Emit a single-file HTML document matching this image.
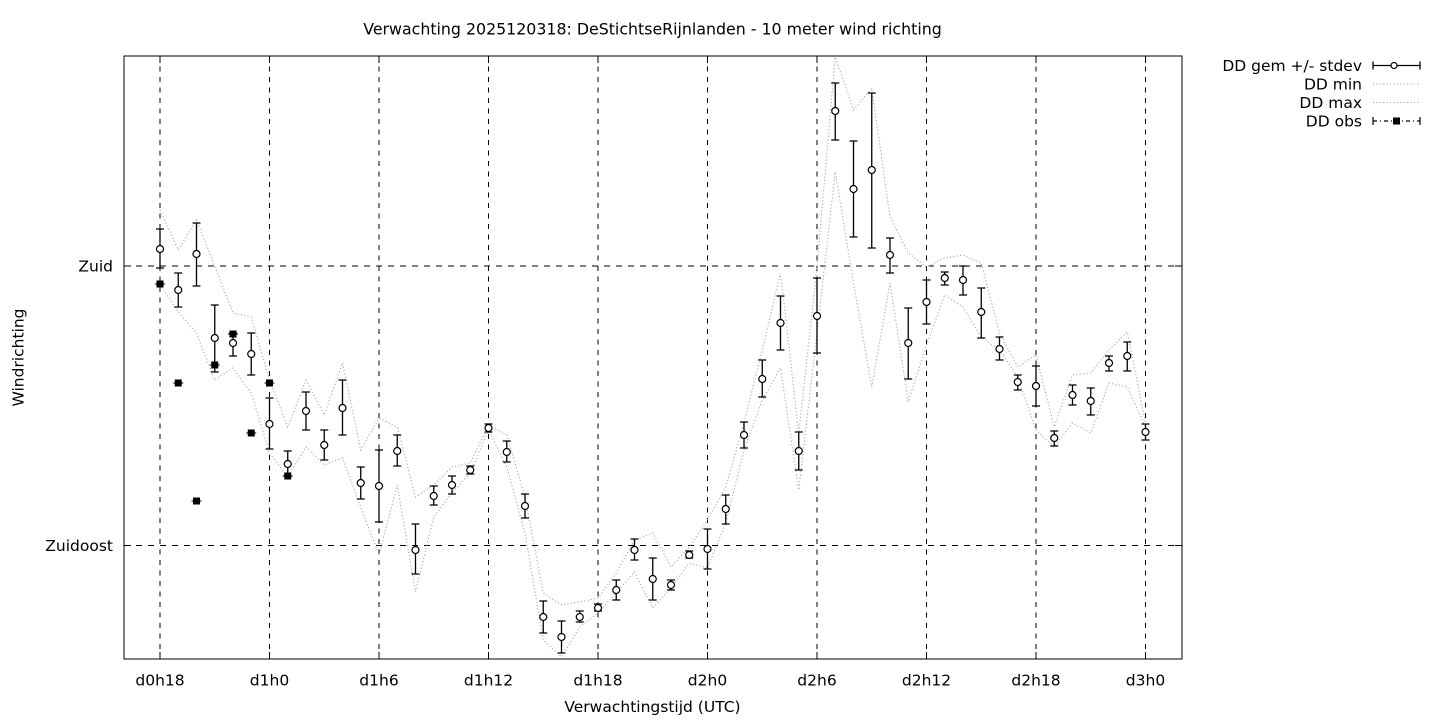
<!DOCTYPE html>
<html><head><meta charset="utf-8"><style>
html,body{margin:0;padding:0;background:#fff;}
svg{display:block;}
text{font-family:"DejaVu Sans","Liberation Sans",sans-serif;font-size:15.5px;fill:#000;}
.eb{stroke:#000;stroke-width:1.3;fill:none;}
.pt{fill:#fff;stroke:#000;stroke-width:1.2;}
.grid{stroke:#000;stroke-width:1;fill:none;shape-rendering:crispEdges;}
.dot{stroke:#a8a8a8;stroke-width:1.1;fill:none;stroke-dasharray:1.2,2.2;}
</style></head><body>
<svg width="1440" height="720" viewBox="0 0 1440 720" xmlns="http://www.w3.org/2000/svg">
<rect width="1440" height="720" fill="#fff"/>
<g class="grid" stroke-dasharray="5,5.5">
<path d="M160 56V659M269.5 56V659M379 56V659M488.5 56V659M598 56V659M707.5 56V659M817 56V659M926.5 56V659M1036 56V659M1145.5 56V659"/>
</g>
<g class="grid" stroke-dasharray="6,6">
<path d="M124 266H1182M124 545.5H1182"/>
</g>
<path stroke="#000" stroke-width="1" shape-rendering="crispEdges" d="M160 659v-7M269.5 659v-7M379 659v-7M488.5 659v-7M598 659v-7M707.5 659v-7M817 659v-7M926.5 659v-7M1036 659v-7M1145.5 659v-7M160 56v7M269.5 56v7M379 56v7M488.5 56v7M598 56v7M707.5 56v7M817 56v7M926.5 56v7M1036 56v7M1145.5 56v7M124 266h7M124 545.5h7M1182 266h-7M1182 545.5h-7"/>
<polyline class="dot" points="160,210 178.25,250 196.5,220 214.75,266 233,313 251.25,317 269.5,380 287.75,427 306,380 324.25,415 342.5,363 360.75,450 379,418 397.25,427 415.5,497 433.75,485 452,467 470.25,463 488.5,425 506.75,435 525,497 543.25,593 561.5,605 579.75,602 598,598 616.25,573 634.5,540 652.75,533 671,567 689.25,547 707.5,520 725.75,487 744,423 762.25,350 780.5,273 798.75,433 817,267 835.25,57 853.5,110 871.75,88 890,217 908.25,253 926.5,267 944.75,258 963,255 981.25,263 999.5,333 1017.75,367 1036,355 1054.25,427 1072.5,375 1090.75,373 1109,350 1127.25,332 1145.5,423"/>
<polyline class="dot" points="160,284 178.25,312 196.5,333 214.75,380 233,368 251.25,393 269.5,453 287.75,477 306,447 324.25,465 342.5,458 360.75,507 379,555 397.25,485 415.5,592 433.75,517 452,493 470.25,473 488.5,430 506.75,467 525,533 543.25,640 561.5,657 579.75,627 598,613 616.25,593 634.5,572 652.75,608 671,588 689.25,563 707.5,568 725.75,523 744,450 762.25,400 780.5,368 798.75,490 817,333 835.25,172 853.5,283 871.75,387 890,283 908.25,402 926.5,345 944.75,295 963,307 981.25,337 999.5,350 1017.75,377 1036,430 1054.25,447 1072.5,423 1090.75,433 1109,383 1127.25,387 1145.5,427"/>
<path class="eb" d="M160 229V268M156 229h8M156 268h8
M178.25 273V307M174.25 273h8M174.25 307h8
M196.5 223V286M192.5 223h8M192.5 286h8
M214.75 305V372M210.75 305h8M210.75 372h8
M233 333V356M229 333h8M229 356h8
M251.25 333V375M247.25 333h8M247.25 375h8
M269.5 398V449M265.5 398h8M265.5 449h8
M287.75 451V476M283.75 451h8M283.75 476h8
M306 392V430M302 392h8M302 430h8
M324.25 430V460M320.25 430h8M320.25 460h8
M342.5 380V435M338.5 380h8M338.5 435h8
M360.75 467V499M356.75 467h8M356.75 499h8
M379 450V522M375 450h8M375 522h8
M397.25 435V466M393.25 435h8M393.25 466h8
M415.5 524V574M411.5 524h8M411.5 574h8
M433.75 486V505M429.75 486h8M429.75 505h8
M452 476V494M448 476h8M448 494h8
M470.25 466V474M466.25 466h8M466.25 474h8
M488.5 424V432M484.5 424h8M484.5 432h8
M506.75 441V462M502.75 441h8M502.75 462h8
M525 494V518M521 494h8M521 518h8
M543.25 601V633M539.25 601h8M539.25 633h8
M561.5 621V653M557.5 621h8M557.5 653h8
M579.75 611V622M575.75 611h8M575.75 622h8
M598 604V611M594 604h8M594 611h8
M616.25 580V600M612.25 580h8M612.25 600h8
M634.5 539V560M630.5 539h8M630.5 560h8
M652.75 558V600M648.75 558h8M648.75 600h8
M671 580V590M667 580h8M667 590h8
M689.25 551V558M685.25 551h8M685.25 558h8
M707.5 529V569M703.5 529h8M703.5 569h8
M725.75 495V524M721.75 495h8M721.75 524h8
M744 422V448M740 422h8M740 448h8
M762.25 360V397M758.25 360h8M758.25 397h8
M780.5 296V350M776.5 296h8M776.5 350h8
M798.75 432V470M794.75 432h8M794.75 470h8
M817 278V353M813 278h8M813 353h8
M835.25 83V140M831.25 83h8M831.25 140h8
M853.5 141V237M849.5 141h8M849.5 237h8
M871.75 93V248M867.75 93h8M867.75 248h8
M890 238V273M886 238h8M886 273h8
M908.25 308V379M904.25 308h8M904.25 379h8
M926.5 280V324M922.5 280h8M922.5 324h8
M944.75 272V285M940.75 272h8M940.75 285h8
M963 266V295M959 266h8M959 295h8
M981.25 288V338M977.25 288h8M977.25 338h8
M999.5 337V360M995.5 337h8M995.5 360h8
M1017.75 375V390M1013.75 375h8M1013.75 390h8
M1036 366V406M1032 366h8M1032 406h8
M1054.25 431V446M1050.25 431h8M1050.25 446h8
M1072.5 385V405M1068.5 385h8M1068.5 405h8
M1090.75 388V415M1086.75 388h8M1086.75 415h8
M1109 356V371M1105 356h8M1105 371h8
M1127.25 342V371M1123.25 342h8M1123.25 371h8
M1145.5 424V440M1141.5 424h8M1141.5 440h8"/>
<path stroke="#000" stroke-width="1" d="M155 284h10M173.25 383h10M191.5 501h10M209.75 365h10M228 334h10M246.25 433h10M264.5 383h10M282.75 476h10"/>
<g fill="#000">
<rect x="156.5" y="280.5" width="7" height="7"/>
<rect x="174.75" y="379.5" width="7" height="7"/>
<rect x="193" y="497.5" width="7" height="7"/>
<rect x="211.25" y="361.5" width="7" height="7"/>
<rect x="229.5" y="330.5" width="7" height="7"/>
<rect x="247.75" y="429.5" width="7" height="7"/>
<rect x="266" y="379.5" width="7" height="7"/>
<rect x="284.25" y="472.5" width="7" height="7"/>
</g>
<g class="pt">
<circle cx="160" cy="249" r="3.5"/><circle cx="178.25" cy="290" r="3.5"/><circle cx="196.5" cy="254" r="3.5"/><circle cx="214.75" cy="338" r="3.5"/><circle cx="233" cy="343" r="3.5"/><circle cx="251.25" cy="354" r="3.5"/><circle cx="269.5" cy="424" r="3.5"/><circle cx="287.75" cy="464" r="3.5"/><circle cx="306" cy="411" r="3.5"/><circle cx="324.25" cy="445" r="3.5"/><circle cx="342.5" cy="408" r="3.5"/><circle cx="360.75" cy="483" r="3.5"/><circle cx="379" cy="486" r="3.5"/><circle cx="397.25" cy="451" r="3.5"/><circle cx="415.5" cy="550" r="3.5"/><circle cx="433.75" cy="496" r="3.5"/><circle cx="452" cy="485" r="3.5"/><circle cx="470.25" cy="470" r="3.5"/><circle cx="488.5" cy="428" r="3.5"/><circle cx="506.75" cy="452" r="3.5"/><circle cx="525" cy="506" r="3.5"/><circle cx="543.25" cy="617" r="3.5"/><circle cx="561.5" cy="637" r="3.5"/><circle cx="579.75" cy="617" r="3.5"/><circle cx="598" cy="608" r="3.5"/><circle cx="616.25" cy="590" r="3.5"/><circle cx="634.5" cy="550" r="3.5"/><circle cx="652.75" cy="579" r="3.5"/><circle cx="671" cy="585" r="3.5"/><circle cx="689.25" cy="555" r="3.5"/><circle cx="707.5" cy="549" r="3.5"/><circle cx="725.75" cy="509" r="3.5"/><circle cx="744" cy="435" r="3.5"/><circle cx="762.25" cy="379" r="3.5"/><circle cx="780.5" cy="323" r="3.5"/><circle cx="798.75" cy="451" r="3.5"/><circle cx="817" cy="316" r="3.5"/><circle cx="835.25" cy="111" r="3.5"/><circle cx="853.5" cy="189" r="3.5"/><circle cx="871.75" cy="170" r="3.5"/><circle cx="890" cy="255" r="3.5"/><circle cx="908.25" cy="343" r="3.5"/><circle cx="926.5" cy="302" r="3.5"/><circle cx="944.75" cy="278" r="3.5"/><circle cx="963" cy="280" r="3.5"/><circle cx="981.25" cy="312" r="3.5"/><circle cx="999.5" cy="349" r="3.5"/><circle cx="1017.75" cy="382" r="3.5"/><circle cx="1036" cy="386" r="3.5"/><circle cx="1054.25" cy="438" r="3.5"/><circle cx="1072.5" cy="395" r="3.5"/><circle cx="1090.75" cy="401" r="3.5"/><circle cx="1109" cy="363" r="3.5"/><circle cx="1127.25" cy="356" r="3.5"/><circle cx="1145.5" cy="432" r="3.5"/>
</g>
<rect x="124" y="56" width="1058" height="603" fill="none" stroke="#000" stroke-width="1.2" shape-rendering="crispEdges"/>
<text x="652.5" y="34.5" text-anchor="middle" style="font-size:15.8px">Verwachting 2025120318: DeStichtseRijnlanden - 10 meter wind richting</text>
<text x="113" y="271.5" text-anchor="end">Zuid</text>
<text x="113" y="551" text-anchor="end">Zuidoost</text>
<text transform="translate(23.5,357.5) rotate(-90)" text-anchor="middle">Windrichting</text>
<g text-anchor="middle">
<text x="160" y="685.5">d0h18</text>
<text x="269.5" y="685.5">d1h0</text>
<text x="379" y="685.5">d1h6</text>
<text x="488.5" y="685.5">d1h12</text>
<text x="598" y="685.5">d1h18</text>
<text x="707.5" y="685.5">d2h0</text>
<text x="817" y="685.5">d2h6</text>
<text x="926.5" y="685.5">d2h12</text>
<text x="1036" y="685.5">d2h18</text>
<text x="1145.5" y="685.5">d3h0</text>
</g>
<text x="652.5" y="712" text-anchor="middle">Verwachtingstijd (UTC)</text>
<g text-anchor="end">
<text x="1362" y="71">DD gem +/- stdev</text>
<text x="1362" y="89.5">DD min</text>
<text x="1362" y="108">DD max</text>
<text x="1362" y="126.5">DD obs</text>
</g>
<path class="eb" d="M1373 65.5H1420M1373 61.5v8M1420 61.5v8"/>
<circle class="pt" cx="1394" cy="65.5" r="3"/>
<path class="dot" d="M1373 84H1420M1373 102.5H1420"/>
<path stroke="#000" stroke-width="1.2" fill="none" d="M1373 121H1420" stroke-dasharray="4,3,1,3"/>
<path stroke="#000" stroke-width="1.2" d="M1373 117v8M1420 117v8"/>
<rect x="1393" y="117.5" width="7" height="7" fill="#000"/>
</svg>
</body></html>
